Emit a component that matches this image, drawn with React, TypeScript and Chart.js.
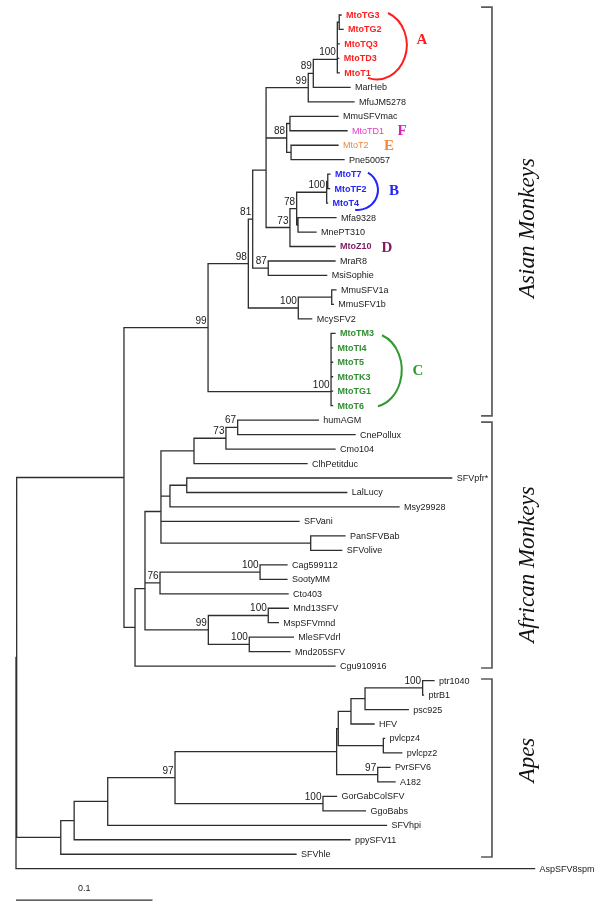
import React, { useEffect, useRef } from 'react';
import { Chart, registerables } from 'chart.js';

Chart.register(...registerables);

// ---- Tree data (leaf order top to bottom) ----
const leafNames = [
  'MtoTG3', 'MtoTG2', 'MtoTQ3', 'MtoTD3', 'MtoT1', 'MarHeb', 'MfuJM5278', 'MmuSFVmac', 'MtoTD1', 'MtoT2',
  'Pne50057', 'MtoT7', 'MtoTF2', 'MtoT4', 'Mfa9328', 'MnePT310', 'MtoZ10', 'MraR8', 'MsiSophie', 'MmuSFV1a',
  'MmuSFV1b', 'McySFV2', 'MtoTM3', 'MtoTI4', 'MtoT5', 'MtoTK3', 'MtoTG1', 'MtoT6',
  'humAGM', 'CnePollux', 'Cmo104', 'ClhPetitduc', 'SFVpfr*', 'LalLucy', 'Msy29928', 'SFVani', 'PanSFVBab', 'SFVolive',
  'Cag599112', 'SootyMM', 'Cto403', 'Mnd13SFV', 'MspSFVmnd', 'MleSFVdrl', 'Mnd205SFV', 'Cgu910916',
  'ptr1040', 'ptrB1', 'psc925', 'HFV', 'pvlcpz4', 'pvlcpz2', 'PvrSFV6', 'A182', 'GorGabColSFV', 'GgoBabs',
  'SFVhpi', 'ppySFV11', 'SFVhle', 'AspSFV8spm',
];

// distance from root to each leaf tip (substitutions/site)
const leafTips = [
  0.2381, 0.2396, 0.2368, 0.2364, 0.2368, 0.2447, 0.2476, 0.2359, 0.2425, 0.2359,
  0.2403, 0.2300, 0.2297, 0.2282, 0.2344, 0.2198, 0.2337, 0.2337, 0.2276, 0.2344,
  0.2325, 0.2166, 0.2337, 0.2319, 0.2319, 0.2319, 0.2319, 0.2319,
  0.2215, 0.2484, 0.2337, 0.2132, 0.3192, 0.2423, 0.2806, 0.2073, 0.2410, 0.2386,
  0.1985, 0.1985, 0.1993, 0.1995, 0.1922, 0.2032, 0.2007, 0.2337,
  0.3062, 0.2985, 0.2874, 0.2623, 0.2700, 0.2826, 0.2740, 0.2777, 0.2348, 0.2560,
  0.2714, 0.2447, 0.2051, 0.3799,
];

// internal node that each leaf hangs from
const leafParents = [
  13, 13, 12, 11, 10, 9, 8, 15, 15, 16,
  16, 20, 20, 19, 21, 21, 17, 22, 22, 24,
  24, 23, 29, 29, 28, 27, 26, 25,
  38, 38, 37, 36, 40, 40, 39, 35, 41, 41,
  43, 43, 42, 45, 45, 46, 46, 30,
  55, 55, 54, 53, 56, 56, 57, 57, 58, 58,
  49, 48, 47, 0,
];

// internal nodes: distance from root
const nodeDepths = [
  0, 0.0005, 0.0791, 0.1407, 0.1702, 0.1734, 0.1832, 0.1832, 0.2141, 0.2178,
  0.2354, 0.2354, 0.2354, 0.2368, 0.1983, 0.2007, 0.2015, 0.2007, 0.2056, 0.2276,
  0.2284, 0.2066, 0.1848, 0.2068, 0.2313, 0.2308, 0.2308, 0.2308, 0.2308, 0.2308,
  0.0872, 0.0945, 0.0945, 0.1062, 0.1062, 0.1062, 0.1304, 0.1538, 0.1624, 0.1128,
  0.1251, 0.2159, 0.1055, 0.1788, 0.1409, 0.1848, 0.1709, 0.0328, 0.0426, 0.0672,
  0.1165, 0.2349, 0.2361, 0.2454, 0.2557, 0.2979, 0.2691, 0.2650, 0.2249,
];

// internal nodes: parent node (-1 = root)
const nodeParents = [
  -1, 0, 1, 2, 3, 4, 5, 6, 7, 8,
  9, 10, 11, 12, 7, 14, 14, 6, 17, 18,
  19, 18, 5, 4, 23, 3, 25, 26, 27, 28,
  2, 30, 31, 32, 33, 34, 34, 36, 37, 35,
  39, 33, 32, 42, 31, 44, 44, 1, 47, 48,
  49, 50, 51, 52, 53, 54, 52, 51, 50,
];

// bootstrap support values
const nodeSupport = [
  '', '', '', '99', '98', '81', '', '', '99', '89',
  '100', '', '', '', '88', '', '', '73', '78', '100',
  '', '', '87', '100', '', '100', '', '', '', '',
  '', '', '', '', '', '', '', '73', '67', '',
  '', '', '76', '100', '99', '100', '100', '', '', '',
  '97', '', '', '', '', '100', '', '97', '100',
];

const groupNames = ['Asian Monkeys', 'African Monkeys', 'Apes'];
const groupSpans = [[-0.55, 27.7], [28.13, 45.13], [45.89, 58.19]];
const scaleBarLength = 0.1;
const scaleBarLabel = '0.1';

// ---- styling / annotation config ----
const cladeLabelStyles = [
  { names: ['MtoTG3', 'MtoTG2', 'MtoTQ3', 'MtoTD3', 'MtoT1'], color: '#ff1e1e', bold: true },
  { names: ['MtoTD1'], color: '#e03cc4', bold: false },
  { names: ['MtoT2'], color: '#f0883a', bold: false },
  { names: ['MtoT7', 'MtoTF2', 'MtoT4'], color: '#2424ff', bold: true },
  { names: ['MtoZ10'], color: '#7d1a62', bold: true },
  { names: ['MtoTM3', 'MtoTI4', 'MtoT5', 'MtoTK3', 'MtoTG1', 'MtoT6'], color: '#2f8f2f', bold: true },
];
const cladeLetters = [
  { text: 'A', x: 0.2974, y: 1.66, color: '#ff1e1e' },
  { text: 'F', x: 0.2828, y: 7.95, color: '#d81fb6' },
  { text: 'E', x: 0.2733, y: 8.98, color: '#f0883a' },
  { text: 'B', x: 0.2769, y: 12.09, color: '#2424ff' },
  { text: 'D', x: 0.2718, y: 16.03, color: '#7d1a62' },
  { text: 'C', x: 0.2945, y: 24.54, color: '#2f9a2f' },
];
const cladeArcs = [
  { cx: 0.2643, cy: 2.07, rx: 0.022, ry: 2.38, a0: -68, a1: 107, color: '#ff1e1e' },
  { cx: 0.2505, cy: 12.09, rx: 0.01465, ry: 1.38, a0: -60, a1: 98, color: '#2424ff' },
  { cx: 0.2606, cy: 24.54, rx: 0.022, ry: 2.56, a0: -70, a1: 78, color: '#2f9a2f' },
];
const bracketX = 0.3487;
const bracketSerif = 0.008;
const groupTextX = 0.3751;
const groupTextY = [14.72, 37.98, 51.49];
const scaleBarY = 61.17;
const scaleLabelY = 60.34;

const X_MIN = 0;
const X_MAX = 0.42;
const PX_PER_UNIT = 1365;

type Child = { leaf: boolean; i: number };

function layoutTree() {
  const n = nodeDepths.length;
  const children: Child[][] = Array.from({ length: n }, () => []);
  nodeParents.forEach((p, i) => { if (p >= 0) children[p].push({ leaf: false, i }); });
  leafParents.forEach((p, i) => { children[p].push({ leaf: true, i }); });
  const nodeY: number[] = new Array(n).fill(NaN);
  const getY = (k: number): number => {
    if (!isNaN(nodeY[k])) return nodeY[k];
    const ys = children[k].map((c) => (c.leaf ? c.i : getY(c.i)));
    nodeY[k] = (Math.min(...ys) + Math.max(...ys)) / 2;
    return nodeY[k];
  };
  for (let k = 0; k < n; k++) getY(k);
  const gap = { x: NaN, y: NaN };
  const pts: { x: number; y: number }[] = [];
  for (let k = 0; k < n; k++) {
    const ys = children[k].map((c) => (c.leaf ? c.i : nodeY[c.i]));
    pts.push({ x: nodeDepths[k], y: Math.min(...ys) }, { x: nodeDepths[k], y: Math.max(...ys) }, gap);
    const p = nodeParents[k];
    if (p >= 0) pts.push({ x: nodeDepths[p], y: nodeY[k] }, { x: nodeDepths[k], y: nodeY[k] }, gap);
  }
  leafTips.forEach((t, i) => {
    pts.push({ x: nodeDepths[leafParents[i]], y: i }, { x: t, y: i }, gap);
  });
  return { nodeY, pts };
}

function styleFor(name: string) {
  for (const s of cladeLabelStyles) if (s.names.includes(name)) return s;
  return { color: '#1a1a1a', bold: false };
}

const SANS = '"Liberation Sans", Arial, Helvetica, sans-serif';
const SERIF = '"Liberation Serif", "Times New Roman", serif';

export default function App() {
  const ref = useRef<HTMLCanvasElement | null>(null);
  useEffect(() => {
    if (!ref.current) return;
    const { nodeY, pts } = layoutTree();
    const bracketPts: { x: number; y: number }[] = [];
    groupSpans.forEach(([a, b]) => {
      bracketPts.push(
        { x: bracketX - bracketSerif, y: a }, { x: bracketX, y: a },
        { x: bracketX, y: b }, { x: bracketX - bracketSerif, y: b }, { x: NaN, y: NaN },
      );
    });
    const textPlugin = {
      id: 'treeText',
      afterDatasetsDraw(chart: any) {
        const ctx = chart.ctx as CanvasRenderingContext2D;
        const xs = chart.scales.x;
        const ys = chart.scales.y;
        ctx.save();
        // leaf labels
        ctx.textAlign = 'left';
        ctx.textBaseline = 'middle';
        leafNames.forEach((name, i) => {
          const st = styleFor(name);
          ctx.font = `${st.bold ? 'bold ' : ''}9px ${SANS}`;
          ctx.fillStyle = st.color;
          ctx.fillText(name, xs.getPixelForValue(leafTips[i]) + 5, ys.getPixelForValue(i) + 0.5);
        });
        // support values
        ctx.font = `10px ${SANS}`;
        ctx.fillStyle = '#1a1a1a';
        ctx.textAlign = 'right';
        ctx.textBaseline = 'alphabetic';
        nodeSupport.forEach((s, k) => {
          if (!s) return;
          ctx.fillText(s, xs.getPixelForValue(nodeDepths[k]) - 1.5, ys.getPixelForValue(nodeY[k]) - 4);
        });
        // clade arcs
        cladeArcs.forEach((a) => {
          const cx = xs.getPixelForValue(a.cx);
          const cy = ys.getPixelForValue(a.cy);
          const rx = xs.getPixelForValue(a.cx + a.rx) - cx;
          const ry = ys.getPixelForValue(a.cy + a.ry) - cy;
          ctx.beginPath();
          ctx.strokeStyle = a.color;
          ctx.lineWidth = 2;
          ctx.ellipse(cx, cy, rx, ry, 0, (a.a0 * Math.PI) / 180, (a.a1 * Math.PI) / 180);
          ctx.stroke();
        });
        // clade letters
        ctx.font = `bold 15px ${SERIF}`;
        ctx.textAlign = 'center';
        ctx.textBaseline = 'middle';
        cladeLetters.forEach((l) => {
          ctx.fillStyle = l.color;
          ctx.fillText(l.text, xs.getPixelForValue(l.x), ys.getPixelForValue(l.y) + 1);
        });
        // group names
        ctx.fillStyle = '#111';
        ctx.font = `italic 23px ${SERIF}`;
        groupNames.forEach((g, k) => {
          ctx.save();
          ctx.translate(xs.getPixelForValue(groupTextX), ys.getPixelForValue(groupTextY[k]));
          ctx.rotate(-Math.PI / 2);
          ctx.textAlign = 'center';
          ctx.textBaseline = 'middle';
          ctx.fillText(g, 0, 0);
          ctx.restore();
        });
        // scale label
        ctx.font = `9px ${SANS}`;
        ctx.fillStyle = '#1a1a1a';
        ctx.textAlign = 'center';
        ctx.textBaseline = 'middle';
        ctx.fillText(scaleBarLabel, xs.getPixelForValue(scaleBarLength / 2), ys.getPixelForValue(scaleLabelY));
        ctx.restore();
      },
    };
    const W = 600;
    const H = 905;
    const left = 16;
    const right = W - left - (X_MAX - X_MIN) * PX_PER_UNIT;
    const chart = new Chart(ref.current, {
      type: 'scatter',
      data: {
        datasets: [
          {
            data: pts,
            showLine: true,
            spanGaps: false,
            pointRadius: 0,
            borderColor: '#2e2e2e',
            borderWidth: 1.3,
            borderCapStyle: 'square',
            clip: false,
          } as any,
          {
            data: bracketPts,
            showLine: true,
            spanGaps: false,
            pointRadius: 0,
            borderColor: '#5a5a5a',
            borderWidth: 1.7,
            clip: false,
          } as any,
          {
            data: [{ x: 0, y: scaleBarY }, { x: scaleBarLength, y: scaleBarY }],
            showLine: true,
            pointRadius: 0,
            borderColor: '#2e2e2e',
            borderWidth: 1.3,
            clip: false,
          } as any,
        ],
      },
      options: {
        animation: false,
        responsive: false,
        maintainAspectRatio: false,
        events: [],
        layout: { padding: { left, right, top: 15, bottom: H - 868.7 } },
        scales: {
          x: { type: 'linear', min: X_MIN, max: X_MAX, display: false },
          y: { type: 'linear', min: 0, max: 59, reverse: true, display: false },
        },
        plugins: { legend: { display: false }, tooltip: { enabled: false }, title: { display: false } },
      },
      plugins: [textPlugin],
    } as any);
    return () => chart.destroy();
  }, []);
  return (
    <div style={{ position: 'absolute', left: 0, top: 0, width: 600, height: 905, background: '#fff' }}>
      <canvas ref={ref} width={600} height={905} style={{ display: 'block', width: 600, height: 905 }} />
    </div>
  );
}
